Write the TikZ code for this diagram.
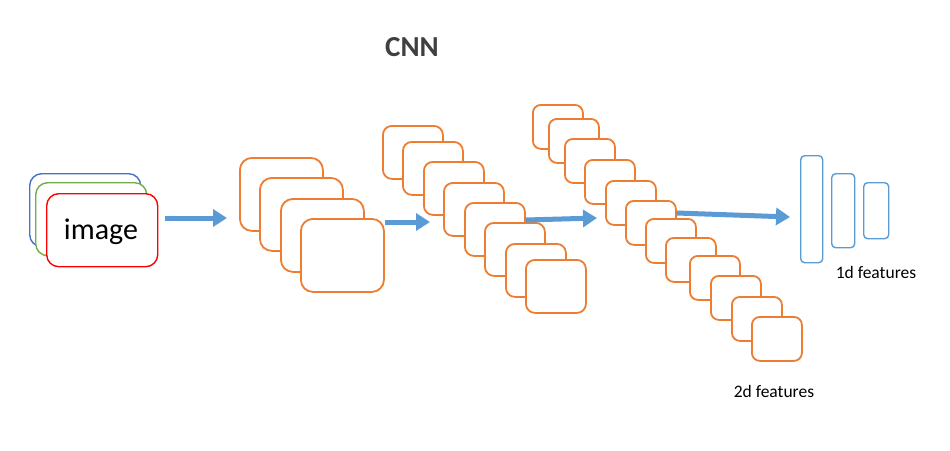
\documentclass[tikz,border=0pt]{standalone}
\usepackage{fontspec}
\setmainfont{Carlito}
\usetikzlibrary{arrows.meta,calc}
\definecolor{fmorange}{HTML}{ED7D31}
\definecolor{arrblue}{HTML}{5B9BD5}
\definecolor{imgblue}{HTML}{4472C4}
\definecolor{imggreen}{HTML}{70AD47}
\definecolor{imgred}{HTML}{FF0000}
\definecolor{titlegray}{HTML}{404040}
\tikzset{
  fmap/.style={draw=fmorange, line width=1.8pt, fill=white, rounded corners=#1,
    anchor=north west, inner sep=0pt},
  fmap/.default=9pt,
  imgbox/.style={draw=#1, line width=1.4pt, fill=white, rounded corners=12pt,
    anchor=north west, minimum width=111pt, minimum height=73pt, inner sep=0pt},
  featbar/.style={draw=arrblue, line width=1.4pt, rounded corners=4pt,
    anchor=north west, inner sep=0pt},
  flow/.style={draw=arrblue, line width=5pt, -{Triangle[length=14pt,width=17pt]}},
  lbl/.style={font=\fontsize{17.5}{21}\selectfont, text=black}
}
\begin{document}
\begin{tikzpicture}[x=1pt, y=-1pt]
\useasboundingbox (0,0) rectangle (950,450);

% title
\node[font=\bfseries\fontsize{29}{35}\selectfont, text=titlegray] (title) at (412,47) {CNN};

% input image
\node[imgbox=imgblue] (imgb) at (29,173) {};
\node[imgbox=imggreen] (imgg) at (35,182) {};
\node[imgbox=imgred] (imgr) at (46,193) {};
\node[font=\fontsize{30}{36}\selectfont] (imgtxt) at (101,232) {image};

% feature maps
\foreach \x/\y [count=\i] in {239/157,259/177,280/198,300/218}
  \node[fmap=12pt, minimum width=83pt, minimum height=73pt] (s1-\i) at (\x,\y) {};
\foreach \x/\y [count=\i] in {382/125,402/141,423/161,443/182,464/202,484/222,505/243,525/259}
  \node[fmap=9pt, minimum width=60pt, minimum height=53pt] (s2-\i) at (\x,\y) {};
\foreach \x/\y [count=\i] in {532/104,548/118,564/138,584/159,605/180,625/200,
                              645/218,665/237,689/255,710/275,731/296,751/316}
  \node[fmap=8pt, minimum width=50pt, minimum height=44pt] (s3-\i) at (\x,\y) {};

% 1d features
\node[featbar, minimum width=22pt, minimum height=107pt] (f1) at (800,155) {};
\node[featbar, minimum width=23pt, minimum height=74pt] (f2) at (831,173) {};
\node[featbar, minimum width=25pt, minimum height=56pt] (f3) at (863,182) {};

% arrows
\coordinate (a1s) at (165,218);
\coordinate (a1e) at (227,218);
\coordinate (a2e) at (430,222);
\coordinate (a3e) at (597,218);
\coordinate (a4e) at (790,217);
\draw[flow] (a1s) -- (a1e);
\draw[flow] ($(s1-4.north east)+(0,4)$) -- (a2e);
\draw[flow] ($(s2-5.north east)+(0,18)$) -- (a3e);
\draw[flow] ($(s3-6.north east)+(0,13)$) -- (a4e);

% labels
\node[lbl] (l1d) at (876,272) {1d features};
\node[lbl] (l2d) at (774,391) {2d features};
\end{tikzpicture}
\end{document}
